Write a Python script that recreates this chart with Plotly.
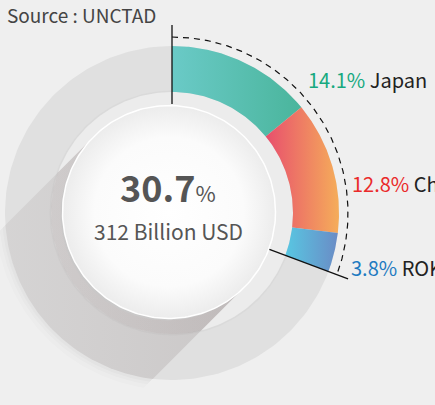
import numpy as np
import plotly.graph_objects as go

# ---------------- data ----------------
countries = ["Japan", "China", "ROK"]
shares = [14.1, 12.8, 3.8]            # % of total
total_share = 30.7
total_value_label = "312 Billion USD"
source_label = "Source : UNCTAD"

# ---------------- styles ----------------
pct_colors = ["#17a97f", "#ea2a2a", "#1f7bc1"]
grad_colors = [("#6acac7", "#4ab59c"), ("#e84f6d", "#f5ad5a"), ("#58c7e2", "#6a8cc6")]
label_pos = [(134, 134), (178, 30), (177, -54)]   # label anchor (left/middle)
FONT = "Noto Sans CJK KR"

W, H = 435, 405
CX_PX, CY_PX = 172, 213
R_OUT, R_IN, R_DISK, R_DASH = 167, 121, 106.5, 176
DCX, DCY = -3, 1          # disk centre (offset from ring centre)


def arc(cx, cy, r, a0, a1, n=120):
    t = np.radians(np.linspace(a0, a1, n))
    return cx + r * np.cos(t), cy + r * np.sin(t)


def poly(xs, ys, color=None, grad=None, line=None):
    kw = dict(x=list(xs) + [xs[0]], y=list(ys) + [ys[0]], mode="lines",
              fill="toself", hoverinfo="skip", showlegend=False,
              line=line or dict(width=0, color="rgba(0,0,0,0)"))
    if grad is not None:
        kw["fillgradient"] = grad
    else:
        kw["fillcolor"] = color
    return go.Scatter(**kw)


def circle(cx, cy, r, color=None, grad=None, line=None):
    xs, ys = arc(cx, cy, r, 0, 360, 240)
    return poly(xs, ys, color, grad, line)


def shadow_poly(clip_r):
    d = np.array([-1.0, -1.0]) / np.sqrt(2)
    nvec = np.array([-1.0, 1.0]) / np.sqrt(2)
    c = np.array([DCX, DCY], float)
    T1 = c + R_DISK * nvec
    T2 = c - R_DISK * nvec
    def hit(T):
        b = T @ d
        t = -b + np.sqrt(b * b - T @ T + clip_r ** 2)
        return T + t * d
    A1, A2 = hit(T1), hit(T2)
    a1 = np.degrees(np.arctan2(A1[1], A1[0])) % 360
    a2 = np.degrees(np.arctan2(A2[1], A2[0])) % 360
    ax, ay = arc(0, 0, clip_r, a1, a2, 80)
    xs = [T1[0]] + list(ax) + [T2[0]]
    ys = [T1[1]] + list(ay) + [T2[1]]
    return xs, ys


fig = go.Figure()

# very soft outer shadow
for rr, a in [(R_OUT + 10, 0.015), (R_OUT + 6, 0.02), (R_OUT + 3, 0.025)]:
    xs, ys = shadow_poly(rr)
    fig.add_trace(poly(xs, ys, f"rgba(60,50,50,{a})"))

# remainder ring and inner band
fig.add_trace(circle(0, 0, R_OUT, "#e0e0e0"))
fig.add_trace(circle(0, 0, R_IN + 1.5, "#dadada"))
fig.add_trace(circle(0, 0, R_IN, "#ececec"))

# long shadow on ring
xs, ys = shadow_poly(R_OUT)
fig.add_trace(poly(xs, ys, grad=dict(type="horizontal",
              colorscale=[[0, "rgba(70,50,50,0.07)"], [1, "rgba(70,50,50,0.14)"]])))
xs, ys = shadow_poly(R_IN)
fig.add_trace(poly(xs, ys, grad=dict(type="horizontal",
              colorscale=[[0, "rgba(70,50,50,0.10)"], [1, "rgba(70,50,50,0.15)"]])))

# coloured segments computed from shares
cum = 0.0
end_angles = []
for s, (c0, c1) in zip(shares, grad_colors):
    a0 = 90 - 3.6 * cum
    cum += s
    a1 = 90 - 3.6 * cum
    end_angles.append(a1)
    ox, oy = arc(0, 0, R_OUT, a0, a1, 80)
    ix, iy = arc(0, 0, R_IN, a1, a0, 80)
    fig.add_trace(poly(list(ox) + list(ix), list(oy) + list(iy),
                       grad=dict(type="horizontal", colorscale=[[0, c0], [1, c1]])))
end_angle = end_angles[-1]

# centre disk (rim + face)
fig.add_trace(circle(DCX - 2, DCY - 2, R_DISK, "#c9c8c8"))
fig.add_trace(circle(DCX, DCY, R_DISK,
                     grad=dict(type="radial",
                               colorscale=[[0, "#ffffff"], [0.7, "#fbfbfb"], [1, "#ececec"]]),
                     line=dict(width=1.5, color="#ffffff")))

# start / end ticks and dashed arc
for ang, r0 in [(90, 109), (end_angle, 104)]:
    t = np.radians(ang)
    fig.add_trace(go.Scatter(x=[r0 * np.cos(t), 188 * np.cos(t)], y=[r0 * np.sin(t), 188 * np.sin(t)],
                             mode="lines", line=dict(color="#111111", width=1.3),
                             hoverinfo="skip", showlegend=False))
dx, dy = arc(0, 0, R_DASH, 90, end_angle, 200)
fig.add_trace(go.Scatter(x=dx, y=dy, mode="lines",
                         line=dict(color="#111111", width=1.2, dash="6px,5px"),
                         hoverinfo="skip", showlegend=False))

# annotations
ann = []
for name, s, col, (lx, ly) in zip(countries, shares, pct_colors, label_pos):
    ann.append(dict(x=lx, y=ly, xref="x", yref="y", xanchor="left", yanchor="middle",
                    showarrow=False, font=dict(family=FONT, size=20, color="#222222"),
                    text=f"<span style='color:{col}'>{s}%</span> {name}"))
ann.append(dict(x=-167, y=199, xref="x", yref="y", xanchor="left", yanchor="middle",
                showarrow=False, font=dict(family=FONT, size=19, color="#444444"),
                text=source_label))
ann.append(dict(x=-4, y=-1, xref="x", yref="y", xanchor="center", yanchor="bottom",
                showarrow=False, font=dict(family=FONT, size=36, color="#555555"),
                text=f"<b>{total_share}</b><span style='font-size:22px'>%</span>"))
ann.append(dict(x=-4, y=-1, xref="x", yref="y", xanchor="center", yanchor="top",
                showarrow=False, font=dict(family=FONT, size=21, color="#555555"),
                text=total_value_label))

fig.update_layout(
    width=W, height=H, margin=dict(l=0, r=0, t=0, b=0),
    paper_bgcolor="#efefef", plot_bgcolor="#efefef",
    xaxis=dict(range=[-CX_PX, W - CX_PX], visible=False, fixedrange=True),
    yaxis=dict(range=[-(H - CY_PX), CY_PX], visible=False, fixedrange=True),
    annotations=ann, showlegend=False,
)
fig.write_html("out.html", config={"displayModeBar": False},
               post_script="document.body.style.margin='0';document.body.style.overflow='hidden';")
